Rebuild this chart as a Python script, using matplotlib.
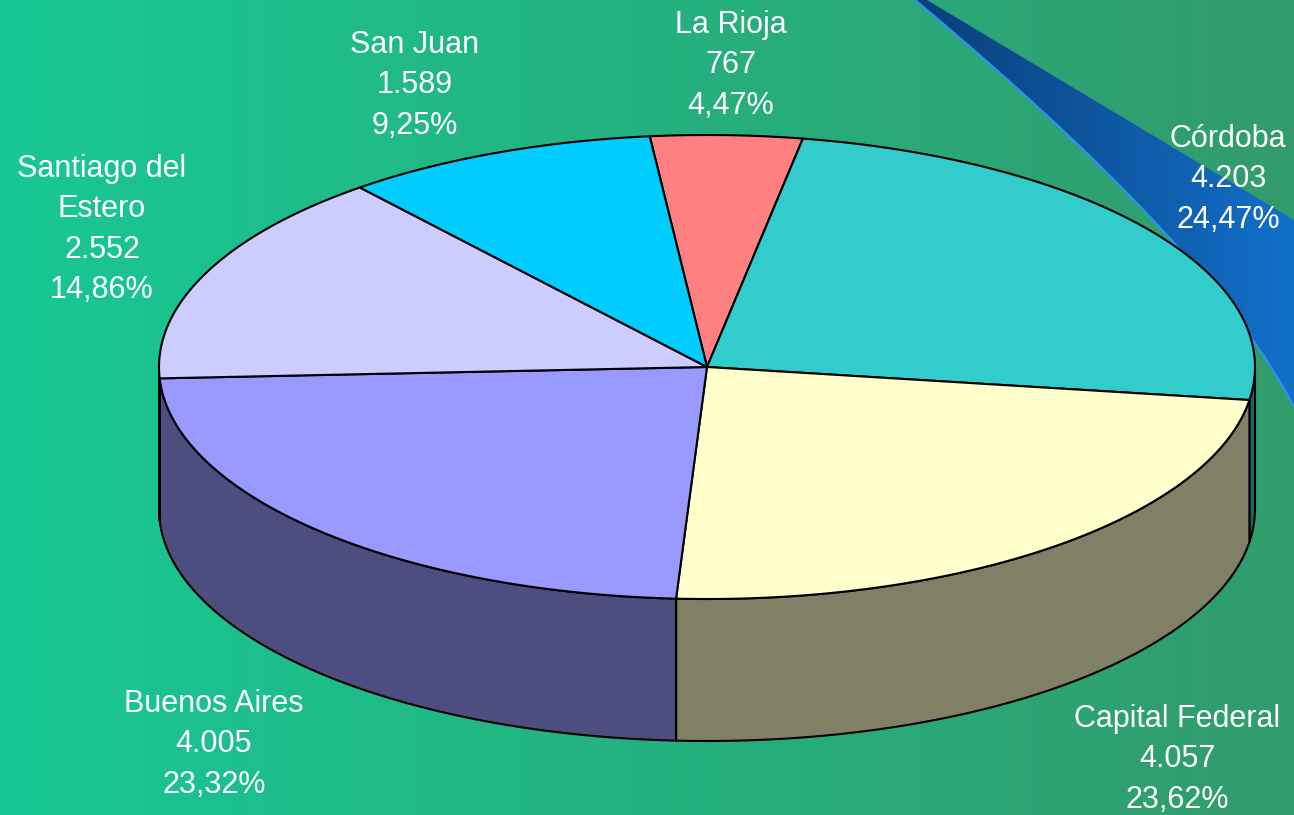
import numpy as np
import matplotlib
matplotlib.use("Agg")
import matplotlib.pyplot as plt
from matplotlib.path import Path
from matplotlib.patches import Polygon, PathPatch

# data, clockwise from the top
provinces = ["La Rioja", "Córdoba", "Capital Federal", "Buenos Aires",
             "Santiago del\nEstero", "San Juan"]
values = [767, 4203, 4057, 4005, 2552, 1589]
top_colors = ["#FF8080", "#33CCCC", "#FFFFCC", "#9999FF", "#CCCCFF", "#00CCFF"]

# label anchors (center x, first baseline y) in pixels
label_pos = [(731, 33), (1228, 147), (1177, 727), (214, 712), (102, 177), (415, 53)]

W, H = 1294, 815
fig = plt.figure(figsize=(W / 100, H / 100), dpi=100)
ax = fig.add_axes([0, 0, 1, 1])
ax.set_xlim(0, W)
ax.set_ylim(H, 0)
ax.axis("off")

# background gradient
left = np.array([24, 200, 148]) / 255
right = np.array([50, 155, 108]) / 255
s = np.linspace(0, 1, 256)
grad = (left[None, :] * (1 - s[:, None]) + right[None, :] * s[:, None])[None, :, :]
ax.imshow(grad, extent=[0, W, H, 0], aspect="auto", zorder=0)

# blue swoosh top right
verts = [(915, 0), (1212, 248), (1294, 407), (1294, 220), (927, 0), (915, 0)]
codes = [Path.MOVETO, Path.CURVE3, Path.CURVE3, Path.LINETO, Path.LINETO, Path.CLOSEPOLY]
swoosh = Path(verts, codes)
clip = PathPatch(swoosh, transform=ax.transData, facecolor="none", edgecolor="none")
ax.add_patch(clip)
c0 = np.array([11, 60, 118]) / 255
c1 = np.array([18, 112, 202]) / 255
bgrad = (c0[None, :] * (1 - s[:, None]) + c1[None, :] * s[:, None])[None, :, :]
im = ax.imshow(bgrad, extent=[900, W, 410, 0], aspect="auto", zorder=1)
im.set_clip_path(clip)
edge = Path(verts[:3], codes[:3])
ax.add_patch(PathPatch(edge, facecolor="none", edgecolor="#2b93f0", lw=1.6, zorder=2))

# 3d pie geometry
cx, cy, a, b, depth = 707, 367, 548, 232, 142
start = 96.0
total = sum(values)
fracs = np.array(values) / total
ends = start - 360 * np.cumsum(fracs)
starts = np.concatenate([[start], ends[:-1]])


def ell(t, dy=0):
    t = np.radians(t)
    return np.column_stack([cx + a * np.cos(t), cy - b * np.sin(t) + dy])


def darker(c):
    rgb = np.array(matplotlib.colors.to_rgb(c))
    return rgb * 0.5


# side faces (front half only)
for t0, t1, col in zip(starts, ends, top_colors):
    hi, lo = min(t0, 0), max(t1, -180)
    if hi <= lo:
        continue
    t = np.linspace(hi, lo, 120)
    pts = np.vstack([ell(t), ell(t[::-1], depth)])
    ax.add_patch(Polygon(pts, closed=True, facecolor=darker(col),
                         edgecolor="black", lw=1.5, zorder=3))

# top faces
for t0, t1, col in zip(starts, ends, top_colors):
    t = np.linspace(t0, t1, 200)
    pts = np.vstack([[cx, cy], ell(t)])
    ax.add_patch(Polygon(pts, closed=True, facecolor=col,
                         edgecolor="black", lw=1.5, zorder=4))

# labels
step = 40.3
for name, v, f, (lx, ly) in zip(provinces, values, fracs, label_pos):
    lines = name.split("\n") + [f"{v:,}".replace(",", "."),
                                f"{f * 100:.2f}".replace(".", ",") + "%"]
    for i, line in enumerate(lines):
        ax.text(lx, ly + i * step, line, ha="center", va="baseline",
                fontsize=22, color="white", family="Liberation Sans", zorder=6)

fig.savefig("out.png", dpi=100)
